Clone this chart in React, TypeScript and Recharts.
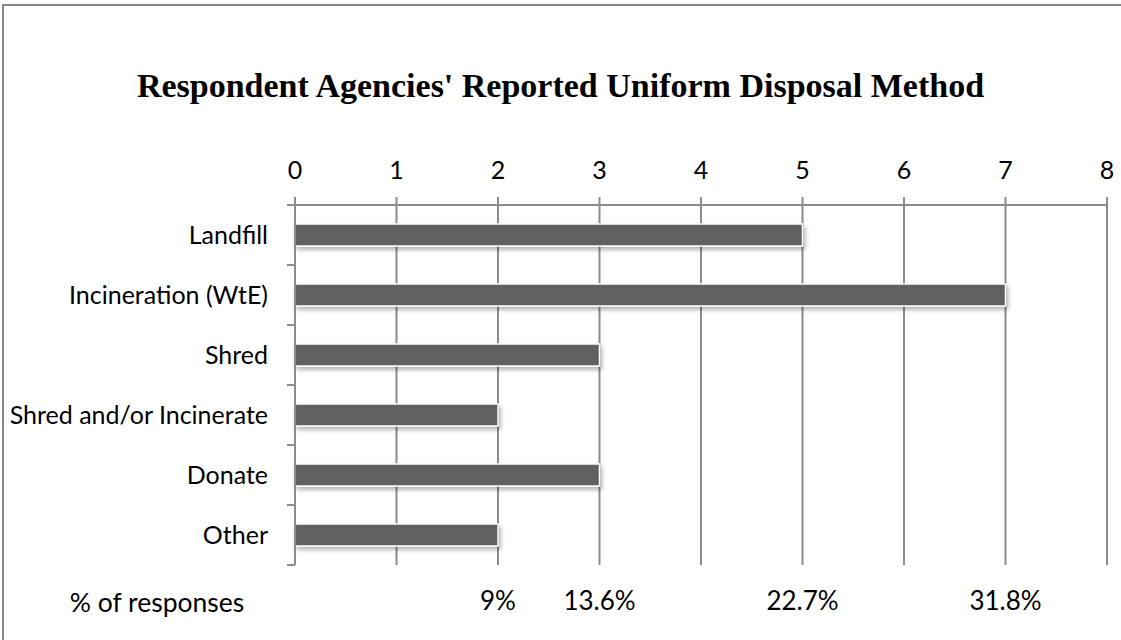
import React from 'react';
import { BarChart, Bar, XAxis, YAxis, CartesianGrid } from 'recharts';

const categories = [
  'Landfill',
  'Incineration (WtE)',
  'Shred',
  'Shred and/or Incinerate',
  'Donate',
  'Other',
];
const responses = [5, 7, 3, 2, 3, 2];
const countTicks = [0, 1, 2, 3, 4, 5, 6, 7, 8];
const pctTicks = [2, 3, 5, 7];
const pctLabels = ['9%', '13.6%', '22.7%', '31.8%'];

const data = categories.map((method, i) => ({ method, responses: responses[i] }));

const FONT = 'Lato, "Open Sans", sans-serif';
const GRID = '#8c8c8c';
const CAT_TICK = 8;
const CAT_GAP = 19;

const BarShape = (props: any) => (
  <rect
    x={props.x}
    y={props.y}
    width={props.width}
    height={props.height}
    fill="#606060"
    stroke="#ffffff"
    strokeWidth={1.5}
    filter="url(#barShadow)"
  />
);

// Excel style: tick marks sit between categories, not at their centres
const CategoryTick = (props: any) => {
  const { x, y, payload, index, visibleTicksCount, height } = props;
  const band = height / visibleTicksCount;
  const ax = x + CAT_GAP + CAT_TICK;
  const last = index === visibleTicksCount - 1;
  return (
    <g>
      <line x1={ax - CAT_TICK} x2={ax} y1={y - band / 2} y2={y - band / 2} stroke={GRID} strokeWidth={2} />
      {last && (
        <line x1={ax - CAT_TICK} x2={ax} y1={y + band / 2} y2={y + band / 2} stroke={GRID} strokeWidth={2} />
      )}
      <text x={x} y={y} dy="0.36em" textAnchor="end" fill="#000" fontSize={25} fontFamily={FONT}>
        {payload.value}
      </text>
    </g>
  );
};

export default function App() {
  return (
    <div style={{ position: 'relative', width: 1121, height: 640, overflow: 'hidden', background: '#fff' }}>
      <style>{'body{margin:0}'}</style>
      <div
        style={{
          position: 'absolute',
          left: 2,
          top: 4,
          width: 1200,
          height: 700,
          borderLeft: '2px solid #878787',
          borderTop: '2px solid #878787',
        }}
      />
      <div
        style={{
          position: 'absolute',
          left: 0,
          top: 64,
          width: 1121,
          textAlign: 'center',
          fontFamily: '"Liberation Serif", serif',
          fontWeight: 'bold',
          fontSize: 34,
          lineHeight: '44px',
          color: '#000',
        }}
      >
        Respondent Agencies' Reported Uniform Disposal Method
      </div>
      <div
        style={{
          position: 'absolute',
          left: 37,
          top: 587,
          width: 240,
          textAlign: 'center',
          fontFamily: FONT,
          fontSize: 26.5,
          lineHeight: '30px',
          color: '#000',
        }}
      >
        % of responses
      </div>
      <div style={{ position: 'absolute', left: 0, top: 0 }}>
        <BarChart
          width={1121}
          height={640}
          data={data}
          layout="vertical"
          margin={{ top: 145, right: 14, bottom: 0, left: 15 }}
        >
          <defs>
            <filter id="barShadow" x="-5%" y="-40%" width="112%" height="200%">
              <feDropShadow dx="2" dy="3" stdDeviation="2" floodColor="#000" floodOpacity="0.3" />
            </filter>
          </defs>
          <CartesianGrid horizontal={false} stroke={GRID} strokeWidth={2} />
          <XAxis
            type="number"
            orientation="top"
            domain={[0, 8]}
            ticks={countTicks}
            interval={0}
            height={60}
            tickSize={8}
            tickMargin={18}
            axisLine={{ stroke: GRID, strokeWidth: 2 }}
            tickLine={{ stroke: GRID, strokeWidth: 2 }}
            tick={{ fill: '#000', fontSize: 25, fontFamily: FONT }}
          />
          <XAxis
            xAxisId="pct"
            type="number"
            orientation="bottom"
            domain={[0, 8]}
            allowDataOverflow
            ticks={pctTicks}
            interval={0}
            height={75}
            axisLine={false}
            tickLine={false}
            tickMargin={21}
            tickFormatter={(v: number) => pctLabels[pctTicks.indexOf(v)]}
            tick={{ fill: '#000', fontSize: 26, fontFamily: FONT }}
          />
          <YAxis
            type="category"
            dataKey="method"
            width={280}
            interval={0}
            tickSize={CAT_TICK}
            tickMargin={CAT_GAP}
            axisLine={{ stroke: GRID, strokeWidth: 2 }}
            tickLine={false}
            tick={CategoryTick}
          />
          <Bar
            dataKey="responses"
            barSize={22}
            shape={BarShape}
            isAnimationActive={false}
          />
        </BarChart>
      </div>
    </div>
  );
}
